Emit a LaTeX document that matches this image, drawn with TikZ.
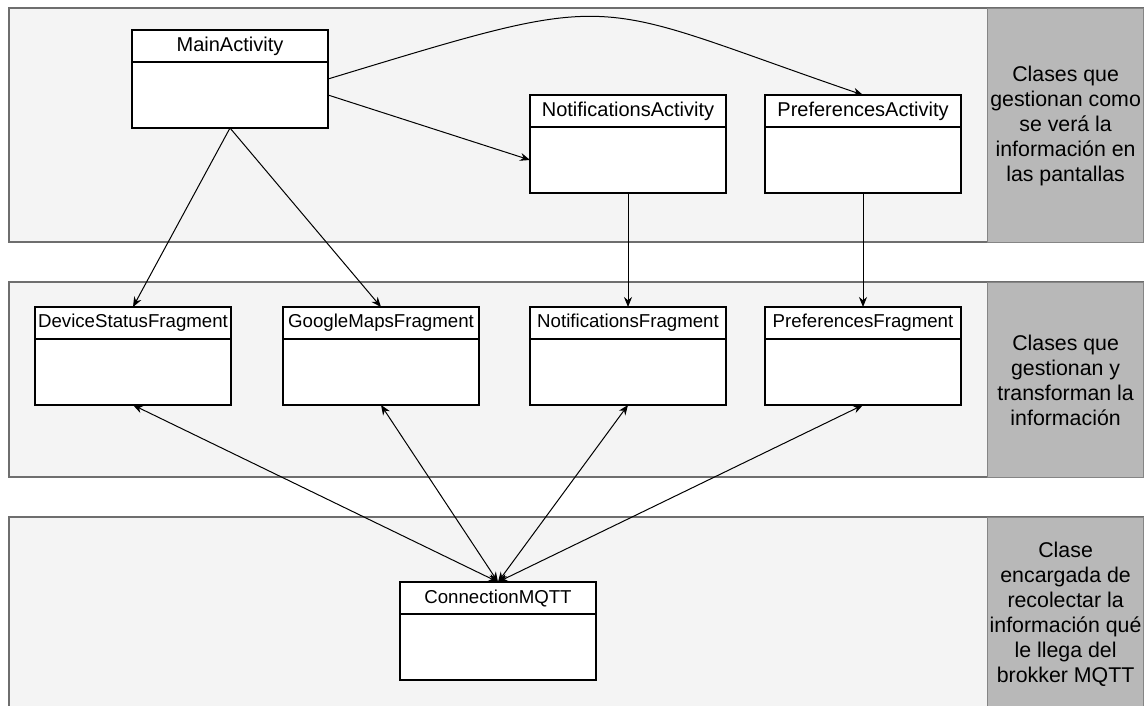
\documentclass[tikz,border=0pt]{standalone}
\usepackage{fontspec}
\setmainfont{Liberation Sans}
\usepackage{xcolor}
\usepackage{tikz}
\usetikzlibrary{positioning,arrows.meta}
\definecolor{bandfill}{HTML}{F4F4F4}
\definecolor{bandline}{HTML}{6E6E6E}
\definecolor{notefill}{HTML}{B8B8B8}
\definecolor{noteline}{HTML}{858585}

\begin{document}
\begin{tikzpicture}[x=0.75pt, y=-0.75pt,
  band/.style={draw=bandline, fill=bandfill, line width=0.9pt},
  note/.style={rectangle, draw=noteline, fill=notefill, line width=0.9pt,
    minimum width=117pt, minimum height=#1, inner sep=0pt, anchor=north west,
    align=center, font=\fontsize{16}{18.75}\selectfont},
  cls/.style={rectangle, draw, fill=white, line width=0.9pt,
    minimum width=147pt, minimum height=24pt, inner sep=0pt, outer sep=0pt,
    anchor=north west, font=\fontsize{15}{18}\selectfont},
  frag/.style={cls, font=\fontsize{14}{17}\selectfont},
  clsbody/.style={rectangle, draw, fill=white, line width=0.9pt,
    minimum width=147pt, minimum height=49.5pt, inner sep=0pt, outer sep=0pt},
  >={Stealth[length=7.5pt,width=6pt]},
  conn/.style={line width=0.75pt}
]
\useasboundingbox (0,0) rectangle (1145,706);

% bands
\draw[band] (9,8) rectangle (1143,242);
\draw[band] (9,282) rectangle (1143,477);
\draw[band] (9,517) rectangle (1143,711);
\node[note=175.5pt] (n1) at (987,8) {Clases que\\gestionan como\\se verá la\\información en\\las pantallas};
\node[note=146.25pt] (n2) at (987,282) {Clases que\\gestionan y\\transforman la\\información};
\node[note=145.5pt] (n3) at (987,517) {Clase\\encargada de\\recolectar la\\información qué\\le llega del\\brokker MQTT};

% activities
\node[cls] (main) at (132,30) {MainActivity};
\node[clsbody, below=0pt of main] (mainb) {};
\node[cls] (nact) at (530,95) {NotificationsActivity};
\node[clsbody, below=0pt of nact] (nactb) {};
\node[cls] (pact) at (765,95) {PreferencesActivity};
\node[clsbody, below=0pt of pact] (pactb) {};

% fragments
\node[frag] (dev) at (35,307) {DeviceStatusFragment};
\node[clsbody, below=0pt of dev] (devb) {};
\node[frag] (gmap) at (283,307) {GoogleMapsFragment};
\node[clsbody, below=0pt of gmap] (gmapb) {};
\node[frag] (nfrag) at (530,307) {NotificationsFragment};
\node[clsbody, below=0pt of nfrag] (nfragb) {};
\node[frag] (pfrag) at (765,307) {PreferencesFragment};
\node[clsbody, below=0pt of pfrag] (pfragb) {};

% mqtt
\node[frag] (mqtt) at (400,582) {ConnectionMQTT};
\node[clsbody, below=0pt of mqtt] (mqttb) {};

\draw[conn,->] (mainb.south) -- (dev.north);
\draw[conn,->] (mainb.south) -- (gmap.north);
\draw[conn,->] (mainb.east) -- (nactb.west);
\draw[conn,->] ([yshift=12pt]mainb.east) .. controls +(300,-91) and +(-280,-96) .. (pact.north);
\draw[conn,->] (nactb.south) -- (nfrag.north);
\draw[conn,->] (pactb.south) -- (pfrag.north);

\draw[conn,<->] (devb.south) -- (mqtt.north);
\draw[conn,<->] (gmapb.south) -- (mqtt.north);
\draw[conn,<->] (nfragb.south) -- (mqtt.north);
\draw[conn,<->] (pfragb.south) -- (mqtt.north);
\end{tikzpicture}
\end{document}
